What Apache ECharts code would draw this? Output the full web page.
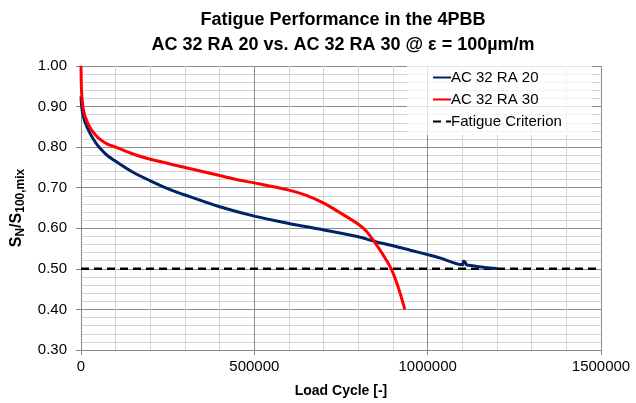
<!DOCTYPE html>
<html>
<head>
<meta charset="utf-8">
<script src="https://cdn.jsdelivr.net/npm/echarts@6/dist/echarts.min.js"></script>
<style>
  html, body { margin: 0; padding: 0; background: #fff; }
  #container { width: 636px; height: 403px; }
</style>
</head>
<body>
<div id="container"></div>
<script>
var cyclesRA20 = [0, 2000, 5000, 11500, 26000, 40000, 55000, 75000, 100000, 150000, 200000, 250000, 300000, 400000, 500000, 600000, 700000, 800000, 850000, 900000, 950000, 1000000, 1035000, 1100000, 1103000, 1108000, 1112000, 1130000, 1150000, 1180000, 1200000];
var stiffRA20 = [0.925, 0.900, 0.883, 0.862, 0.834, 0.814, 0.797, 0.780, 0.765, 0.738, 0.717, 0.698, 0.682, 0.653, 0.630, 0.612, 0.596, 0.579, 0.567, 0.557, 0.546, 0.535, 0.527, 0.510, 0.519, 0.517, 0.510, 0.508, 0.505, 0.502, 0.501];

var cyclesRA30 = [0, 1000, 2500, 6000, 11500, 26000, 40000, 55000, 75000, 100000, 150000, 200000, 300000, 400000, 458000, 500000, 600000, 650000, 700000, 746000, 800000, 822000, 846000, 871000, 895000, 915000, 934000];
var stiffRA30 = [1.00, 0.95, 0.925, 0.897, 0.876, 0.848, 0.832, 0.819, 0.808, 0.800, 0.783, 0.770, 0.750, 0.730, 0.7185, 0.712, 0.694, 0.681, 0.662, 0.639, 0.610, 0.594, 0.567, 0.535, 0.500, 0.455, 0.400];

var criterionX = [0, 1500000];
var criterionY = [0.5, 0.5];

var seriesNames = ["AC 32 RA 20", "AC 32 RA 30", "Fatigue Criterion"];

function zip(xs, ys) {
  var out = [];
  for (var i = 0; i < xs.length; i++) out.push([xs[i], ys[i]]);
  return out;
}

var dom = document.getElementById("container");
var myChart = echarts.init(dom);

var font = "Liberation Sans, Arial, sans-serif";

var option = {
  animation: false,
  textStyle: { fontFamily: font },
  title: {
    text: "Fatigue Performance in the 4PBB\nAC 32 RA 20 vs. AC 32 RA 30 @ ε = 100µm/m",
    left: 338,
    top: 3,
    textAlign: "center",
    textStyle: {
      fontFamily: font,
      fontSize: 18,
      fontWeight: "bold",
      color: "#000",
      lineHeight: 25
    }
  },
  legend: {
    data: seriesNames,
    orient: "vertical",
    left: 407,
    top: 66,
    padding: [4, 30, 6, 25],
    itemGap: 7,
    itemWidth: 18,
    itemHeight: 15,
    itemStyle: { opacity: 0 },
    backgroundColor: "rgba(255,255,255,0.75)",
    textStyle: { fontFamily: font, fontSize: 15, color: "#000", padding: [0, 0, 0, -5] }
  },
  grid: {
    left: 81,
    right: 35,
    top: 66,
    bottom: 51
  },
  xAxis: {
    type: "value",
    min: 0,
    max: 1500000,
    interval: 500000,
    name: "Load Cycle [-]",
    nameLocation: "middle",
    nameGap: 34,
    nameTextStyle: { fontFamily: font, fontSize: 14, fontWeight: "bold", color: "#000" },
    axisLine: { lineStyle: { color: "#888" } },
    axisTick: { show: true, length: 5, lineStyle: { color: "#888" } },
    axisLabel: {
      fontFamily: font, fontSize: 15, color: "#000", margin: 9,
      formatter: function (v) { return String(v); }
    },
    splitLine: { show: true, lineStyle: { color: "#8c8c8c", width: 1 } },
    minorSplitLine: { show: true, lineStyle: { color: "#d4d4d4", width: 1 } },
    minorTick: { show: false, splitNumber: 5 }
  },
  yAxis: {
    type: "value",
    min: 0.3,
    max: 1.0,
    interval: 0.1,
    name: "{b|S}{s|N}{b|/S}{s|100,mix}",
    nameLocation: "middle",
    nameRotate: 90,
    nameGap: 49,
    nameTextStyle: {
      rich: {
        b: { fontFamily: font, fontSize: 16, fontWeight: "bold", color: "#000" },
        s: { fontFamily: font, fontSize: 12, fontWeight: "bold", color: "#000", verticalAlign: "bottom", padding: [8, 0, 0, 0] }
      }
    },
    axisLine: { show: true, lineStyle: { color: "#888" } },
    axisTick: { show: true, length: 5, lineStyle: { color: "#888" } },
    axisLabel: {
      fontFamily: font, fontSize: 15, color: "#000", margin: 14,
      formatter: function (v) { return v.toFixed(2); }
    },
    splitLine: { show: true, lineStyle: { color: "#8c8c8c", width: 1 } },
    minorSplitLine: { show: true, lineStyle: { color: "#d4d4d4", width: 1 } },
    minorTick: { show: false, splitNumber: 5 }
  },
  series: [
    {
      name: seriesNames[0],
      type: "line",
      data: zip(cyclesRA20, stiffRA20),
      showSymbol: false,
      symbol: "none",
      smooth: 0.3,
      itemStyle: { color: "#002366" },
      lineStyle: { color: "#002366", width: 3 },
      z: 3
    },
    {
      name: seriesNames[1],
      type: "line",
      data: zip(cyclesRA30, stiffRA30),
      showSymbol: false,
      symbol: "none",
      smooth: 0.3,
      itemStyle: { color: "#ff0000" },
      lineStyle: { color: "#ff0000", width: 3 },
      z: 4
    },
    {
      name: seriesNames[2],
      type: "line",
      data: zip(criterionX, criterionY),
      showSymbol: false,
      symbol: "none",
      itemStyle: { color: "#000" },
      lineStyle: { color: "#000", width: 2.5, type: [8, 5] },
      z: 2
    }
  ]
};

if (option && typeof option === "object") {
  myChart.setOption(option, true);
}
</script>
</body>
</html>
